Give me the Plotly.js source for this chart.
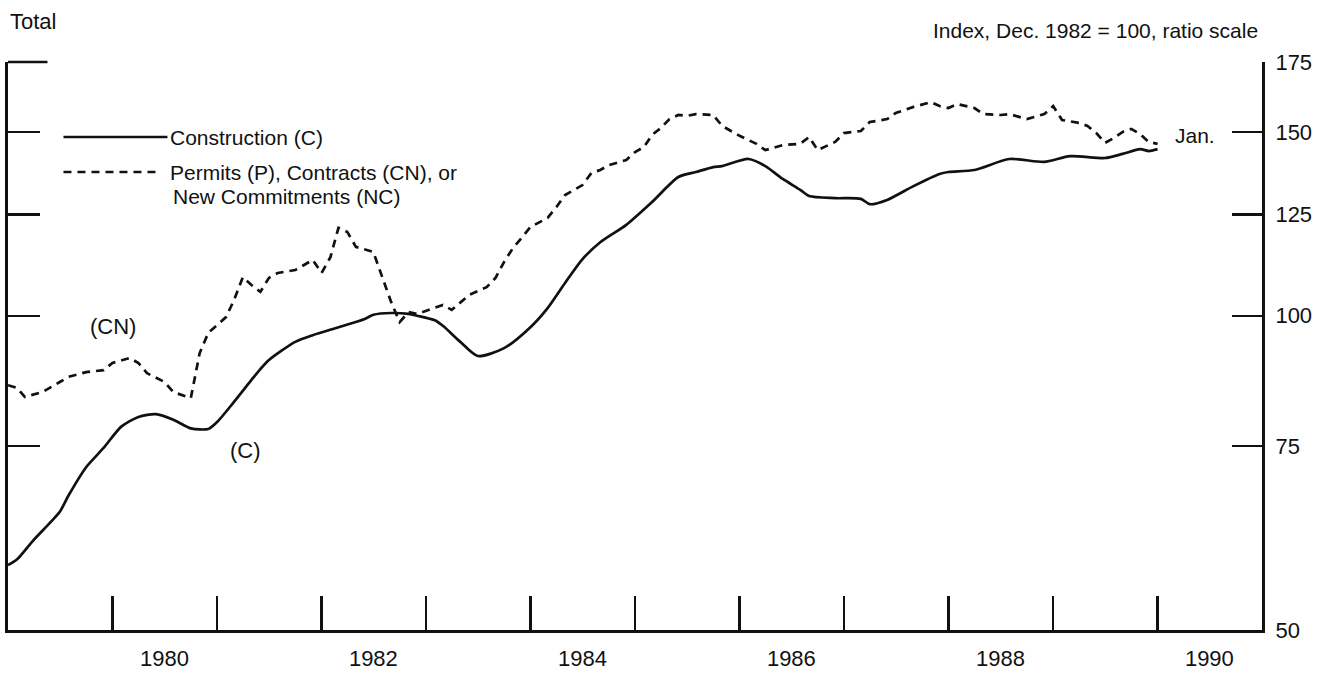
<!DOCTYPE html>
<html>
<head>
<meta charset="utf-8">
<script src="https://cdn.plot.ly/plotly-3.0.1.min.js"></script>
<style>
  html, body { margin: 0; padding: 0; background: #fff; }
  #chart { width: 1329px; height: 674px; }
</style>
</head>
<body>
<div id="chart"></div>
<script>
// ---- Data ----
const constructionDates = ['1979-01','1979-02','1979-04','1979-07','1979-08','1979-10','1979-12',
  '1980-02','1980-04','1980-06','1980-08','1980-10','1980-12',
  '1981-01','1981-03','1981-05','1981-06','1981-07','1981-10','1981-12',
  '1982-03','1982-06','1982-07','1982-09','1982-11','1982-12',
  '1983-02','1983-03','1983-05','1983-07','1983-10',
  '1984-01','1984-03','1984-05','1984-07','1984-09','1984-12',
  '1985-03','1985-06','1985-08','1985-10','1985-11',
  '1986-02','1986-04','1986-06','1986-08','1986-09','1986-12',
  '1987-03','1987-04','1987-06','1987-09','1987-12',
  '1988-01','1988-04','1988-08','1988-12',
  '1989-03','1989-07','1989-09','1989-11','1989-12','1990-01'];
const constructionValues = [57.7,58.4,61.0,64.9,67.3,71.6,74.7,
  78.3,80.0,80.5,79.5,78.0,77.9,
  79.1,82.7,86.8,88.9,90.7,94.4,95.8,
  97.5,99.3,100.2,100.6,100.4,100.0,
  99.0,97.8,94.4,91.5,93.1,
  97.5,101.7,107.5,113.3,117.6,122.2,
  128.5,135.8,137.3,138.8,139.1,
  141.3,139.1,135.2,132.0,130.2,129.6,
  129.4,127.9,129.1,133.1,136.7,
  137.3,137.9,141.3,140.4,
  142.2,141.6,142.9,144.4,143.8,144.4];

const permitsDates = ['1979-01','1979-02','1979-03','1979-05','1979-07','1979-08','1979-10','1979-12',
  '1980-01','1980-03','1980-04','1980-05','1980-07','1980-08','1980-10','1980-11','1980-12',
  '1981-01','1981-02','1981-03','1981-04','1981-05','1981-06','1981-07','1981-08','1981-10','1981-11','1981-12',
  '1982-01','1982-02','1982-03','1982-04','1982-05','1982-07','1982-08','1982-09','1982-10','1982-11','1982-12',
  '1983-02','1983-03','1983-04','1983-06','1983-08','1983-09','1983-10','1983-11','1983-12',
  '1984-01','1984-03','1984-04','1984-05','1984-07','1984-08','1984-09','1984-10','1984-11','1984-12',
  '1985-01','1985-02','1985-03','1985-04','1985-05','1985-06','1985-07','1985-08','1985-10','1985-11',
  '1986-01','1986-03','1986-04','1986-06','1986-08','1986-09','1986-10','1986-12',
  '1987-01','1987-03','1987-04','1987-06','1987-07','1987-09','1987-11','1987-12',
  '1988-01','1988-02','1988-04','1988-05','1988-07','1988-08','1988-10','1988-12',
  '1989-01','1989-02','1989-04','1989-05','1989-06','1989-07','1989-08','1989-09','1989-10','1989-11','1989-12',
  '1990-01'];
const permitsValues = [85.8,85.3,83.6,84.5,86.4,87.4,88.3,88.7,
  90.1,91.1,90.1,88.1,86.4,84.5,83.4,92.1,96.3,
  98.0,99.7,103.5,108.9,107.0,105.4,108.7,109.9,110.6,111.8,113.1,
  109.9,113.8,121.4,120.3,116.4,115.1,108.9,103.1,98.6,100.8,100.4,
  101.7,102.4,101.3,104.7,106.5,108.7,112.6,116.1,118.7,
  121.6,124.1,127.1,130.5,133.4,137.0,137.9,139.4,140.1,141.0,
  143.5,145.1,149.0,151.3,154.3,155.7,155.4,156.0,155.7,152.0,
  148.7,146.1,144.1,145.7,146.1,148.3,144.1,146.7,
  149.6,150.3,153.3,154.3,156.4,158.5,160.2,158.8,
  158.1,159.5,158.1,156.0,155.7,156.0,154.3,156.0,
  158.8,154.0,153.0,152.0,149.6,146.4,148.0,150.0,151.0,149.3,146.7,
  146.1];

const yTickValues = [50, 75, 100, 125, 150, 175];
const yTickLabels = ['50', '75', '100', '125', '150', '175'];
const yearTicks = ['1980-01-01','1981-01-01','1982-01-01','1983-01-01','1984-01-01','1985-01-01',
  '1986-01-01','1987-01-01','1988-01-01','1989-01-01','1990-01-01'];
const yearLabelPositions = ['1980-07-01','1982-07-01','1984-07-01','1986-07-01','1988-07-01','1990-07-01'];
const yearLabels = ['1980','1982','1984','1986','1988','1990'];

// ---- Chart ----
const FONT = 'Liberation Sans, Arial, Helvetica, sans-serif';
const INK = '#111';
const yRange = [Math.log10(50), Math.log10(175)];
const xRange = ['1979-01-01', '1991-01-01'];

const traces = [
  {
    x: constructionDates, y: constructionValues, type: 'scatter', mode: 'lines',
    line: { color: INK, width: 2.7, shape: 'spline', smoothing: 0.7 },
    xaxis: 'x', yaxis: 'y', hoverinfo: 'skip', showlegend: false
  },
  {
    x: permitsDates, y: permitsValues, type: 'scatter', mode: 'lines',
    line: { color: INK, width: 2.7, dash: '8px,6px' },
    xaxis: 'x2', yaxis: 'y2', hoverinfo: 'skip', showlegend: false
  }
];

const W = 1329, H = 674;
const L = 7.5, R = 1262, T = 62, B = 630;
const px = v => (v - L) / (R - L);
const py = v => (B - v) / (B - T);

const layout = {
  width: W, height: H,
  margin: { l: L, r: W - R, t: T, b: H - B, pad: 0 },
  paper_bgcolor: '#fff', plot_bgcolor: '#fff',
  font: { family: FONT, size: 22, color: INK },
  showlegend: false,
  xaxis: {
    type: 'date', range: xRange, showgrid: false, zeroline: false,
    showline: true, linecolor: INK, linewidth: 3,
    tickmode: 'array', tickvals: yearTicks, ticks: 'inside', ticklen: 34, tickwidth: 2.2, tickcolor: INK,
    showticklabels: false
  },
  xaxis2: {
    type: 'date', range: xRange, overlaying: 'x', side: 'bottom', anchor: 'y2',
    showgrid: false, zeroline: false, showline: false,
    tickmode: 'array', tickvals: yearLabelPositions, ticktext: yearLabels, ticks: '',
    tickfont: { family: FONT, size: 22, color: INK }, ticklabelstandoff: 13
  },
  yaxis: {
    type: 'log', range: yRange, showgrid: false, zeroline: false,
    showline: true, linecolor: INK, linewidth: 3,
    tickmode: 'array', tickvals: yTickValues, ticks: 'inside', ticklen: 32, tickwidth: 2.2, tickcolor: INK,
    showticklabels: false
  },
  yaxis2: {
    type: 'log', range: yRange, overlaying: 'y', side: 'right', anchor: 'x2',
    showgrid: false, zeroline: false,
    showline: true, linecolor: INK, linewidth: 3,
    tickmode: 'array', tickvals: yTickValues, ticktext: yTickLabels,
    ticks: 'inside', ticklen: 30, tickwidth: 2.2, tickcolor: INK,
    tickfont: { family: FONT, size: 22, color: INK }, ticklabelstandoff: 6
  },
  shapes: [
    // longer top-left tick as in the reference
    { type: 'line', xref: 'paper', yref: 'paper', x0: 0, x1: px(47), y0: 1, y1: 1,
      line: { color: INK, width: 2.6 } },
    // legend keys
    { type: 'line', xref: 'paper', yref: 'paper', x0: px(63), x1: px(167), y0: py(137), y1: py(137),
      line: { color: INK, width: 2.7 } },
    { type: 'line', xref: 'paper', yref: 'paper', x0: px(63), x1: px(157), y0: py(172), y1: py(172),
      line: { color: INK, width: 2.7, dash: '8px,6px' } }
  ],
  annotations: [
    { text: 'Total', xref: 'paper', yref: 'paper', x: px(8), y: py(21), xanchor: 'left', yanchor: 'middle',
      showarrow: false, font: { family: FONT, size: 22, color: INK } },
    { text: 'Index, Dec. 1982 = 100, ratio scale', xref: 'paper', yref: 'paper', x: px(1260), y: py(31),
      xanchor: 'right', yanchor: 'middle', showarrow: false, font: { family: FONT, size: 21, color: INK } },
    { text: 'Construction (C)', xref: 'paper', yref: 'paper', x: px(168), y: py(137), xanchor: 'left', yanchor: 'middle',
      showarrow: false, font: { family: FONT, size: 21, color: INK } },
    { text: 'Permits (P), Contracts (CN), or', xref: 'paper', yref: 'paper', x: px(168), y: py(172), xanchor: 'left', yanchor: 'middle',
      showarrow: false, font: { family: FONT, size: 21, color: INK } },
    { text: 'New Commitments (NC)', xref: 'paper', yref: 'paper', x: px(171), y: py(197), xanchor: 'left', yanchor: 'middle',
      showarrow: false, font: { family: FONT, size: 21, color: INK } },
    { text: '(CN)', xref: 'paper', yref: 'paper', x: px(88), y: py(326), xanchor: 'left', yanchor: 'middle',
      showarrow: false, font: { family: FONT, size: 22, color: INK } },
    { text: '(C)', xref: 'paper', yref: 'paper', x: px(228), y: py(450), xanchor: 'left', yanchor: 'middle',
      showarrow: false, font: { family: FONT, size: 22, color: INK } },
    { text: 'Jan.', xref: 'paper', yref: 'paper', x: px(1173), y: py(135), xanchor: 'left', yanchor: 'middle',
      showarrow: false, font: { family: FONT, size: 21, color: INK } }
  ]
};

Plotly.newPlot('chart', traces, layout, { displayModeBar: false, staticPlot: true });
</script>
</body>
</html>
